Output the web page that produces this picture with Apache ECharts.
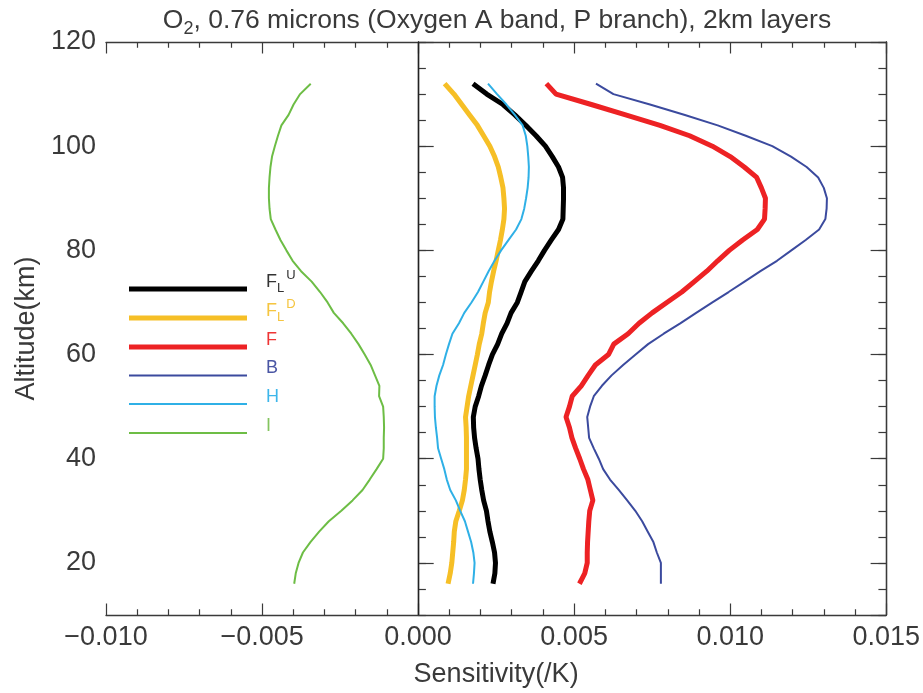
<!DOCTYPE html>
<html>
<head>
<meta charset="utf-8">
<title>O2 A band sensitivity</title>
<script src="https://cdn.jsdelivr.net/npm/echarts@6/dist/echarts.min.js"></script>
<style>
  html, body { margin: 0; padding: 0; background: #fff; }
  #chart { width: 923px; height: 693px; }
</style>
</head>
<body>
<div id="chart"></div>
<script>
// layer altitudes (km), 2 km layers
const altitude = [112, 110, 108, 106, 104, 102, 100, 98, 96, 94, 92, 90, 88, 86, 84, 82, 80, 78, 76, 74, 72, 70, 68, 66, 64,
  62, 60, 58, 56, 54, 52, 50, 48, 46, 44, 42, 40, 38, 36, 34, 32, 30, 28, 26, 24, 22, 20, 18, 16]

// sensitivities, in units of 0.001 /K
const flu = [1.76, 2.2, 2.72, 3.1, 3.45, 3.78, 4.08, 4.3, 4.5, 4.63, 4.66, 4.66, 4.65, 4.64, 4.5, 4.27, 4.05, 3.85, 3.63, 3.42,
  3.3, 3.18, 2.98, 2.85, 2.68, 2.55, 2.38, 2.26, 2.15, 2.03, 1.94, 1.83, 1.77, 1.78, 1.81, 1.86, 1.92, 1.95, 1.99, 2.04,
  2.1, 2.19, 2.24, 2.3, 2.38, 2.45, 2.48, 2.46, 2.4]
const fld = [0.85, 1.15, 1.4, 1.65, 1.9, 2.1, 2.3, 2.45, 2.57, 2.65, 2.72, 2.75, 2.77, 2.75, 2.7, 2.64, 2.57, 2.5, 2.42, 2.35,
  2.29, 2.25, 2.15, 2.09, 2.04, 1.96, 1.9, 1.83, 1.76, 1.69, 1.62, 1.57, 1.52, 1.54, 1.55, 1.55, 1.55, 1.55, 1.52, 1.48,
  1.42, 1.32, 1.21, 1.16, 1.14, 1.11, 1.08, 1.03, 0.96]
const f = [4.11, 4.42, 5.55, 6.65, 7.75, 8.7, 9.43, 10.0, 10.45, 10.85, 11.0, 11.13, 11.12, 11.1, 10.87, 10.4, 9.97, 9.6, 9.25, 8.85,
  8.45, 7.97, 7.5, 7.08, 6.73, 6.27, 6.1, 5.68, 5.45, 5.23, 4.94, 4.85, 4.74, 4.85, 4.93, 5.05, 5.18, 5.3, 5.44, 5.52,
  5.6, 5.5, 5.47, 5.45, 5.43, 5.42, 5.42, 5.34, 5.17]
const b = [5.7, 6.26, 7.43, 8.55, 9.6, 10.5, 11.35, 11.95, 12.45, 12.82, 13.0, 13.1, 13.09, 13.05, 12.85, 12.42, 11.96, 11.5, 10.97, 10.46,
  9.95, 9.43, 8.91, 8.4, 7.87, 7.37, 6.97, 6.57, 6.2, 5.89, 5.63, 5.51, 5.42, 5.45, 5.48, 5.63, 5.79, 5.93, 6.15, 6.43,
  6.7, 6.96, 7.18, 7.36, 7.54, 7.65, 7.78, 7.78, 7.78]
const h = [2.24, 2.53, 2.83, 3.1, 3.35, 3.45, 3.5, 3.53, 3.55, 3.54, 3.51, 3.46, 3.4, 3.31, 3.14, 2.9, 2.66, 2.45, 2.26, 2.09,
  1.92, 1.71, 1.48, 1.31, 1.1, 0.99, 0.89, 0.8, 0.68, 0.59, 0.53, 0.53, 0.54, 0.57, 0.61, 0.64, 0.74, 0.84, 0.92, 1.03,
  1.21, 1.35, 1.5, 1.6, 1.7, 1.77, 1.81, 1.79, 1.76]
const i = [-3.44, -3.78, -3.99, -4.15, -4.38, -4.49, -4.59, -4.68, -4.73, -4.76, -4.78, -4.78, -4.76, -4.72, -4.57, -4.41, -4.22, -4.02, -3.75, -3.41,
  -3.14, -2.9, -2.7, -2.4, -2.14, -1.91, -1.71, -1.52, -1.38, -1.24, -1.25, -1.12, -1.1, -1.09, -1.1, -1.1, -1.12, -1.33, -1.55, -1.78,
  -2.1, -2.46, -2.86, -3.17, -3.45, -3.69, -3.83, -3.92, -3.97]

const FONT = 'Liberation Sans'
const INK = '#3a3a3a'

function pairs(values) {
  return values.map((v, k) => [v, altitude[k]])
}

function curve(name, values, color, width) {
  return {
    name: name,
    type: 'line',
    data: pairs(values),
    color: color,
    symbol: 'none',
    smooth: false,
    lineStyle: {color: color, width: width},
    emphasis: {disabled: true}
  }
}

function legendLabel(name) {
  if (name === 'FLU') return '{m|F}{s|L}{p|U}'
  if (name === 'FLD') return '{m|F}{s|L}{p|D}'
  return '{m|' + name + '}'
}

function legendItem(name, lineY, iconH, textColor) {
  return {
    data: [name],
    left: 129,
    top: lineY - 20,
    padding: 0,
    icon: 'rect',
    itemWidth: 118,
    itemHeight: iconH,
    selectedMode: false,
    formatter: legendLabel,
    textStyle: {
      color: textColor,
      fontFamily: FONT,
      fontSize: 18,
      lineHeight: 26,
      padding: [0, 0, 14, 14],
      rich: {
        m: {color: textColor, fontFamily: FONT, fontSize: 18, lineHeight: 26},
        s: {color: textColor, fontFamily: FONT, fontSize: 13, lineHeight: 13, verticalAlign: 'bottom'},
        p: {color: textColor, fontFamily: FONT, fontSize: 13, lineHeight: 13, verticalAlign: 'top', padding: [0, 0, 0, 2]}
      }
    }
  }
}

const axisLine = {show: true, lineStyle: {color: INK, width: 1.3}}

function xAxisDef(pos, showLabels) {
  return {
    type: 'value',
    position: pos,
    min: -10,
    max: 15,
    interval: 5,
    axisLine: axisLine,
    axisTick: {show: true, inside: true, length: 11.5, lineStyle: {color: INK, width: 1.2}},
    minorTick: {show: true, splitNumber: 5, length: 5.75, lineStyle: {color: INK, width: 1.2}},
    splitLine: {show: false},
    axisLabel: {
      show: showLabels,
      margin: 9,
      color: INK,
      fontFamily: FONT,
      fontSize: 27,
      formatter: v => (v < 0 ? '\u2212' : '') + Math.abs(v / 1000).toFixed(3)
    },
    name: showLabels ? 'Sensitivity(/K)' : '',
    nameLocation: 'middle',
    nameGap: 46,
    nameTextStyle: {color: INK, fontFamily: FONT, fontSize: 27}
  }
}

// major ticks every 20 km (auto), minor every 5 km on a twin axis
function yMajor(pos, showLabels) {
  return {
    type: 'value',
    position: pos,
    min: 10,
    max: 120,
    axisLine: axisLine,
    axisTick: {show: true, inside: true, length: 15.6, lineStyle: {color: INK, width: 1.2}},
    splitLine: {show: false},
    axisLabel: {
      show: showLabels,
      showMinLabel: false,
      margin: 10,
      color: INK,
      fontFamily: FONT,
      fontSize: 27,
      formatter: v => (v === 10 ? '' : String(v))
    },
    name: showLabels ? 'Altitude(km)' : '',
    nameLocation: 'middle',
    nameGap: 66,
    nameRotate: 90,
    nameTextStyle: {color: INK, fontFamily: FONT, fontSize: 27}
  }
}

function yMinor(pos) {
  return {
    type: 'value',
    position: pos,
    min: 10,
    max: 120,
    interval: 5,
    axisLine: axisLine,
    axisTick: {show: true, inside: true, length: 7.8, lineStyle: {color: INK, width: 1.2}},
    splitLine: {show: false},
    axisLabel: {show: false}
  }
}

const series = [
  curve('FLU', flu, '#000000', 5),
  curve('FLD', fld, '#f6bf26', 5),
  curve('F', f, '#ed2224', 5),
  curve('B', b, '#3b4a9e', 2),
  curve('H', h, '#2fb0e6', 2),
  curve('I', i, '#6dbd45', 2)
]
series[0].markLine = {
  silent: true,
  symbol: ['none', 'none'],
  label: {show: false},
  lineStyle: {color: '#222', width: 1.2, type: 'solid'},
  data: [{xAxis: 0}]
}

const option = {
  animation: false,
  backgroundColor: '#fff',
  title: {
    text: '{a|O}{b|2}{a|, 0.76 microns (Oxygen A band, P branch), 2km layers}',
    left: 497,
    top: 4,
    padding: 0,
    textAlign: 'center',
    textStyle: {
      color: INK,
      fontFamily: FONT,
      fontWeight: 'normal',
      rich: {
        a: {color: INK, fontFamily: FONT, fontSize: 26.5, lineHeight: 34},
        b: {color: INK, fontFamily: FONT, fontSize: 18, lineHeight: 18, verticalAlign: 'bottom'}
      }
    }
  },
  grid: {left: 106, right: 36, top: 42, bottom: 76, containLabel: false},
  legend: [
    legendItem('FLU', 289, 5, '#333'),
    legendItem('FLD', 318, 5, '#f5c540'),
    legendItem('F', 347, 5, '#ee3535'),
    legendItem('B', 375.5, 2, '#4a56a4'),
    legendItem('H', 404, 2, '#3db6ea'),
    legendItem('I', 433, 2, '#84c45f')
  ],
  xAxis: [xAxisDef('bottom', true), xAxisDef('top', false)],
  yAxis: [yMajor('left', true), yMinor('left'), yMajor('right', false), yMinor('right')],
  series: series
}

const chart = echarts.init(document.getElementById('chart'), null, {renderer: 'canvas'})
chart.setOption(option)
window.addEventListener('resize', function () {
  chart.resize()
})
</script>
</body>
</html>
